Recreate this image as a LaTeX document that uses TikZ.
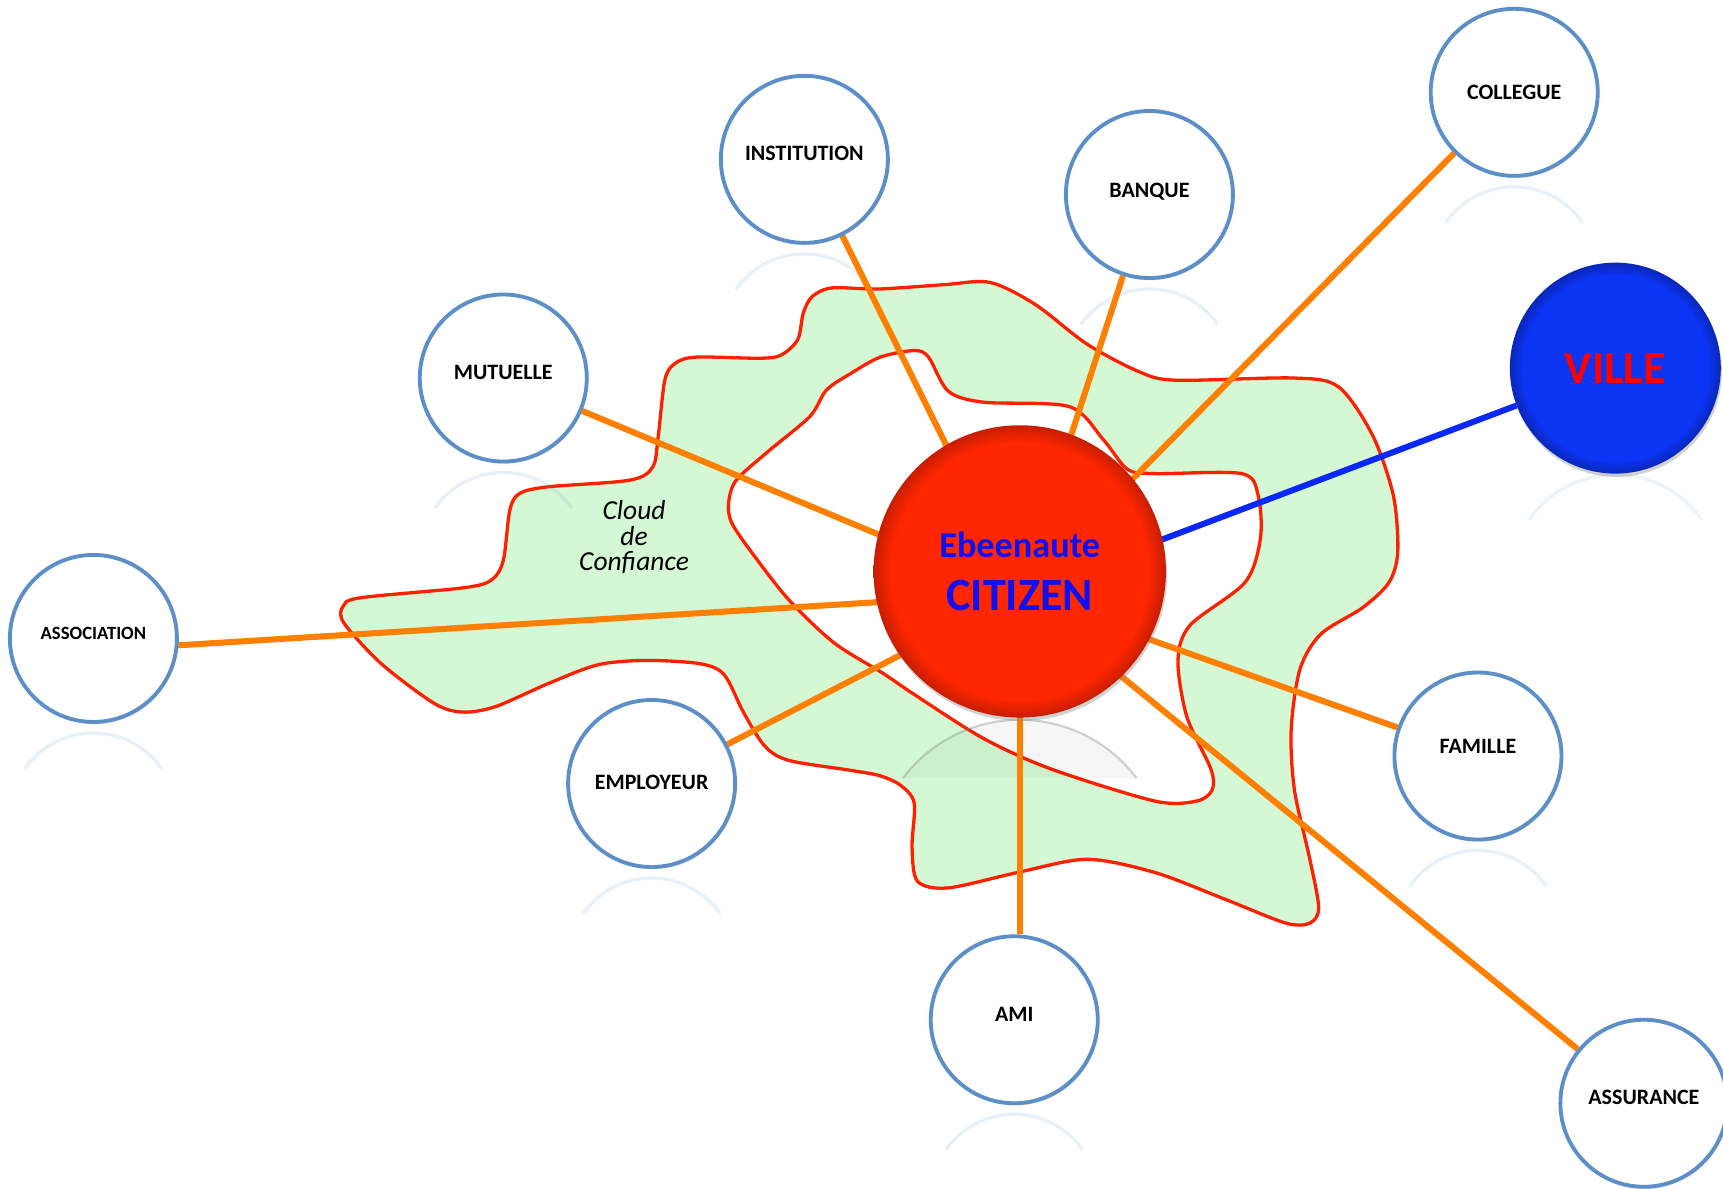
\documentclass[tikz,border=0pt]{standalone}
\usepackage{fontspec}
\setmainfont{Carlito}
\usepackage{tikz}
\usetikzlibrary{shadows,backgrounds}

\definecolor{citred}{RGB}{255,38,0}
\definecolor{citblue}{RGB}{16,16,240}
\definecolor{villeblue}{RGB}{12,52,245}
\definecolor{linkorange}{RGB}{255,128,0}
\definecolor{linkblue}{RGB}{10,40,250}
\definecolor{ringblue}{RGB}{92,143,200}
\definecolor{cloudgreen}{RGB}{212,248,212}
\definecolor{cloudred}{RGB}{255,32,0}

\pgfdeclareradialshading{citshade}{\pgfpoint{0bp}{0bp}}{color(0bp)=(citred); color(22bp)=(citred); color(25bp)=(citred!78!black); color(50bp)=(citred!78!black)}
\pgfdeclareradialshading{villeshade}{\pgfpoint{0bp}{0bp}}{color(0bp)=(villeblue); color(22bp)=(villeblue); color(25bp)=(villeblue!75!black); color(50bp)=(villeblue!75!black)}

\begin{document}
\begin{tikzpicture}[x=1pt, y=-1pt,
  peer/.style={circle, draw=ringblue, line width=3.5pt, fill=white, minimum size=152pt, inner sep=0pt,
    drop shadow={opacity=0.25, shadow xshift=1pt, shadow yshift=-2pt}},
  lbl/.style={font=\bfseries\fontsize{20}{24}\selectfont, yshift=5pt},
  link/.style={linkorange, line width=5.5pt},
  refl/.style={ringblue, line width=3pt, opacity=0.13},
  cloud/.style={draw=cloudred, line width=3pt, fill=cloudgreen}]
  \useasboundingbox (0,0) rectangle (1568,1082);

  \node[circle, minimum size=266pt, inner sep=0pt, shade, shading=citshade, align=center, text=citblue,
    font=\bfseries\fontsize{33}{48}\selectfont,
    drop shadow={opacity=0.35, shadow xshift=1pt, shadow yshift=-3pt}] (cit) at (928,520)
    {Ebeenaute\\{\fontsize{42}{48}\selectfont CITIZEN}};
  \node[circle, minimum size=192pt, inner sep=0pt, shade, shading=villeshade, text=red, font=\bfseries\fontsize{42}{48}\selectfont,
    drop shadow={opacity=0.35, shadow xshift=1pt, shadow yshift=-3pt}] (ville) at (1470,335) {VILLE};
  \coordinate (hub) at (928,540);

  \node[peer, label={[lbl]center:INSTITUTION}] (inst) at (732,145) {};
  \node[peer, label={[lbl, yshift=-2pt]center:BANQUE}] (banq) at (1046,177) {};
  \node[peer, label={[lbl, yshift=-5pt]center:COLLEGUE}] (coll) at (1378,84) {};
  \node[peer, label={[lbl]center:MUTUELLE}] (mutu) at (458,344) {};
  \node[peer, label={[lbl, font=\bfseries\fontsize{17}{20}\selectfont]center:ASSOCIATION}] (asso) at (85,581) {};
  \node[peer, label={[lbl, yshift=-4pt]center:EMPLOYEUR}] (empl) at (593,713) {};
  \node[peer, label={[lbl]center:AMI}] (ami) at (923,928) {};
  \node[peer, label={[lbl, yshift=4pt]center:FAMILLE}] (fami) at (1345,688) {};
  \node[peer, label={[lbl]center:ASSURANCE}] (assu) at (1496,1004) {};

  \begin{scope}[on background layer]
    \fill[white] (0,0) rectangle (1568,1082);
    \filldraw[cloud] plot[smooth cycle, tension=0.5] coordinates {
      (739,270) (757,262) (800,263) (860,259) (901,257) (942,277) (989,313) (1036,338) (1070,346)
      (1177,344) (1218,352) (1249,396) (1268,451) (1272,502) (1264,530) (1240,553) (1202,577)
      (1183,609) (1175,664) (1178,719) (1192,782) (1200,826) (1192,840) (1170,840) (1114,818)
      (1051,794) (989,782) (926,794) (863,808) (835,802) (830,771) (832,731) (820,715) (801,706)
      (774,701) (718,692) (696,679) (677,649) (659,614) (637,604) (588,601) (544,605) (499,622)
      (451,643) (421,648) (395,640) (347,604) (313,567) (312,552) (328,544) (421,535) (447,528)
      (458,510) (464,464) (473,449) (499,443) (573,437) (594,425) (599,397) (605,346) (614,331)
      (633,325) (692,326) (711,323) (726,309) (731,285)};
    \filldraw[cloud, fill=white] plot[smooth cycle, tension=0.5] coordinates {
      (801,325) (832,319) (845,325) (863,356) (895,366) (973,370) (1004,400) (1026,427) (1051,431)
      (1130,431) (1145,451) (1147,490) (1133,530) (1083,569) (1072,601) (1080,652) (1102,700)
      (1103,719) (1089,729) (1051,729) (957,700) (895,672) (832,632) (804,613) (759,585) (718,546)
      (685,504) (666,476) (663,458) (670,437) (700,410) (737,379) (752,355) (774,340)};
    \node[align=center, font=\itshape\fontsize{25}{23}\selectfont] (cdc) at (577,489) {Cloud\\de\\Confiance};

    \foreach \n in {inst,banq,coll,mutu,asso,empl,ami,fami,assu}
      \draw[refl] ([xshift=-62.3pt,yshift=-118.4pt]\n.center) arc[start angle=145, end angle=35, radius=76pt];
    \draw[refl, opacity=0.1] ([xshift=-78.6pt,yshift=-137.9pt]ville.center) arc[start angle=145, end angle=35, radius=96pt];
    \fill[black, opacity=0.035] ([xshift=-106.2pt,yshift=-188pt]cit.center) arc[start angle=143, end angle=37, radius=133pt] -- cycle;
    \draw[gray, opacity=0.35, line width=2pt] ([xshift=-106.2pt,yshift=-188pt]cit.center) arc[start angle=143, end angle=37, radius=133pt];

    \foreach \n in {inst,banq,coll,mutu,empl,fami,assu}
      \draw[link] (hub) -- (\n);
    \draw[link] (hub) -- ([yshift=-11pt]asso.center);
    \draw[link] (hub) -- (hub |- ami.north);
    \draw[link, linkblue] (hub) -- (ville);
  \end{scope}
\end{tikzpicture}
\end{document}
